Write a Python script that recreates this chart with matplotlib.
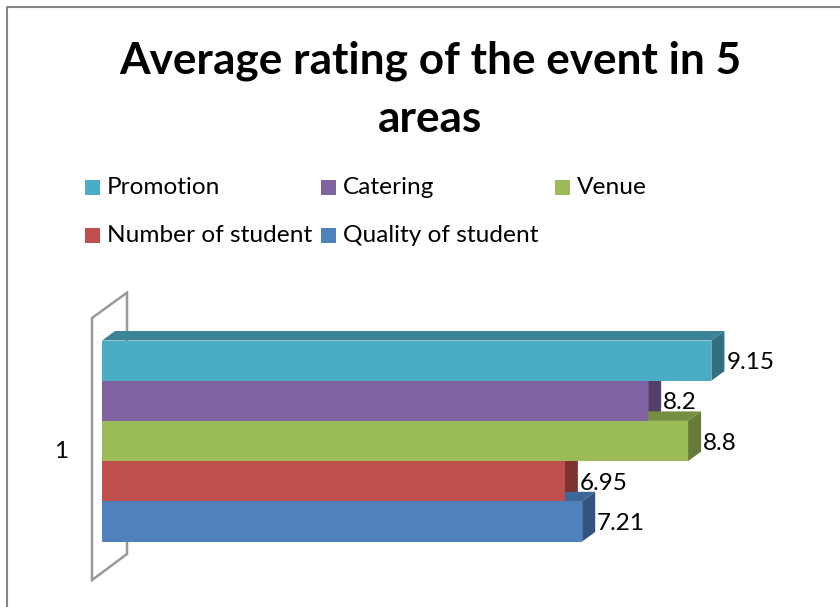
import matplotlib
matplotlib.use("Agg")
import matplotlib.pyplot as plt
from matplotlib.patches import Polygon, Rectangle
from matplotlib.lines import Line2D

plt.rcParams['font.family'] = ['Lato', 'DejaVu Sans']

# donnees
categories = ["Promotion", "Catering", "Venue", "Number of student", "Quality of student"]
values = [9.15, 8.2, 8.8, 6.95, 7.21]
value_labels = ["9.15", "8.2", "8.8", "6.95", "7.21"]
group_label = "1"
title = "Average rating of the event in 5\nareas"

# couleurs face / dessus / cote
front_colors = ["#4BACC6", "#8064A2", "#9BBB59", "#C0504D", "#4F81BD"]
top_colors = ["#3B8497", "#62497F", "#748F42", "#94403D", "#3C6797"]
side_colors = ["#32707F", "#543F6B", "#667A3A", "#7D322F", "#315480"]

W, H = 840, 607
fig = plt.figure(figsize=(W / 100, H / 100), dpi=100, facecolor="white")

def fx(px):
    return px / W

def fy(py):
    return 1 - py / H

# cadre du graphique (haut et gauche seulement visibles)
fig.add_artist(Line2D([fx(6.5), fx(6.5), 1], [0, fy(6.5), fy(6.5)], color="#868686", lw=1.5))

# zone de trace : 66.6 px par unite en x, 40.2 px par barre en y
px_x = 66.6
px_y = 40.2
ax = fig.add_axes([fx(102), fy(541.5), 10 * px_x / W, 5 * px_y / H])
ax.set_xlim(0, 10)
ax.set_ylim(0, 5)
ax.axis("off")

dx = 13 / px_x
dy = 9.5 / px_y
positions = [4.5, 3.5, 2.5, 1.5, 0.5]

# paroi du fond
ax.add_patch(Polygon([(-10 / px_x, 5.56), (25 / px_x, 6.19), (25 / px_x, -0.31), (-10 / px_x, -0.96)],
                     closed=True, fill=False, edgecolor="#999999", lw=1.8, clip_on=False, zorder=1))

# faces du dessus et cotes, puis faces avant
for i in range(len(values)):
    v = values[i]
    y0 = positions[i] - 0.5
    y1 = positions[i] + 0.5
    ax.add_patch(Polygon([(0, y1), (dx, y1 + dy), (v + dx, y1 + dy), (v, y1)],
                         closed=True, facecolor=top_colors[i], edgecolor="none", clip_on=False, zorder=2))
    ax.add_patch(Polygon([(v, y0), (v + dx, y0 + dy), (v + dx, y1 + dy), (v, y1)],
                         closed=True, facecolor=side_colors[i], edgecolor="none", clip_on=False, zorder=2))

ax.barh(positions, values, height=1, color=front_colors, zorder=3, clip_on=False)

# etiquettes de valeurs
for i in range(len(values)):
    ax.text(values[i] + 15 / px_x, positions[i] - 2 / px_y, value_labels[i], ha="left", va="center",
            fontsize=17.5, color="black", clip_on=False, zorder=4)

ax.text(-41 / px_x, 2.25, group_label, ha="center", va="center", fontsize=17.5, color="black")

# titre
fig.text(fx(430), fy(89.5), title, ha="center", va="center", fontsize=31.8, fontweight="bold",
         color="black", linespacing=1.56)

# legende
legend_x = [85, 321, 555, 85, 321]
legend_y = [187.5, 187.5, 187.5, 235.5, 235.5]
for i in range(len(categories)):
    fig.add_artist(Rectangle((fx(legend_x[i]), fy(legend_y[i] + 7.5)), 15 / W, 15 / H,
                             transform=fig.transFigure, facecolor=front_colors[i], edgecolor="none"))
    fig.text(fx(legend_x[i] + 22), fy(legend_y[i]), categories[i], ha="left", va="center",
             fontsize=17.6, color="black")

fig.savefig("out.png", dpi=100)
